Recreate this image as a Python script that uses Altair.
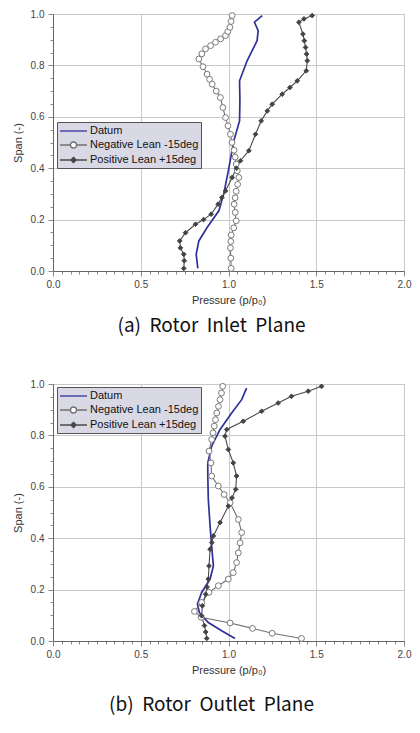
import altair as alt
import pandas as pd

SERIES = ["Datum", "Negative Lean -15deg", "Positive Lean +15deg"]

# ---- (a) Rotor Inlet Plane ----
a_datum_p = [0.825, 0.816, 0.831, 0.878, 0.945, 0.973, 1.002, 1.030, 1.063, 1.065, 1.063, 1.106, 1.163, 1.169, 1.148, 1.192]
a_datum_s = [0.01, 0.065, 0.117, 0.169, 0.234, 0.30, 0.40, 0.506, 0.584, 0.662, 0.74, 0.818, 0.896, 0.935, 0.968, 0.994]

a_neg_p = [1.015, 1.013, 1.011, 1.013, 1.015, 1.030, 1.044, 1.038, 1.032, 1.038, 1.044, 1.052, 1.059, 1.050, 1.044, 1.038, 1.032, 1.020, 1.011, 0.997, 0.983, 0.968, 0.954, 0.930, 0.907, 0.892, 0.878, 0.855, 0.831, 0.848, 0.869, 0.898, 0.926, 0.955, 0.983, 0.996, 1.008, 1.015, 1.021]
a_neg_s = [0.01, 0.05, 0.09, 0.115, 0.14, 0.168, 0.195, 0.228, 0.26, 0.285, 0.31, 0.337, 0.364, 0.39, 0.416, 0.443, 0.47, 0.50, 0.532, 0.565, 0.597, 0.636, 0.675, 0.70, 0.727, 0.746, 0.766, 0.795, 0.825, 0.845, 0.864, 0.877, 0.89, 0.903, 0.916, 0.932, 0.948, 0.971, 0.994]

a_pos_p = [0.745, 0.748, 0.745, 0.726, 0.722, 0.755, 0.812, 0.858, 0.901, 0.941, 0.962, 0.983, 1.021, 1.045, 1.068, 1.116, 1.154, 1.186, 1.221, 1.249, 1.306, 1.350, 1.392, 1.443, 1.449, 1.445, 1.439, 1.432, 1.424, 1.401, 1.430, 1.477]
a_pos_s = [0.01, 0.04, 0.065, 0.09, 0.117, 0.149, 0.182, 0.20, 0.221, 0.26, 0.286, 0.312, 0.364, 0.40, 0.429, 0.468, 0.532, 0.584, 0.623, 0.649, 0.688, 0.714, 0.74, 0.779, 0.818, 0.844, 0.87, 0.896, 0.922, 0.968, 0.981, 0.994]

# ---- (b) Rotor Outlet Plane ----
b_datum_p = [1.037, 0.961, 0.885, 0.834, 0.823, 0.847, 0.895, 0.914, 0.904, 0.895, 0.885, 0.882, 0.882, 0.904, 0.952, 1.018, 1.075, 1.103]
b_datum_s = [0.01, 0.04, 0.072, 0.111, 0.144, 0.189, 0.241, 0.292, 0.37, 0.448, 0.551, 0.642, 0.693, 0.758, 0.823, 0.887, 0.939, 0.984]

b_neg_p = [1.416, 1.249, 1.137, 1.009, 0.844, 0.806, 0.847, 0.889, 0.942, 0.999, 1.027, 1.046, 1.056, 1.066, 1.075, 1.056, 1.009, 0.975, 0.942, 0.904, 0.900, 0.889, 0.904, 0.912, 0.919, 0.926, 0.933, 0.943, 0.952, 0.960, 0.967]
b_neg_s = [0.01, 0.03, 0.049, 0.07, 0.092, 0.115, 0.15, 0.189, 0.215, 0.241, 0.266, 0.305, 0.343, 0.382, 0.422, 0.473, 0.538, 0.57, 0.603, 0.642, 0.693, 0.739, 0.784, 0.81, 0.836, 0.861, 0.887, 0.913, 0.939, 0.965, 0.991]

b_pos_p = [0.876, 0.870, 0.863, 0.847, 0.851, 0.870, 0.878, 0.885, 0.889, 0.895, 0.905, 0.914, 0.952, 0.999, 1.020, 1.041, 1.046, 1.027, 0.999, 0.980, 0.990, 1.084, 1.189, 1.283, 1.359, 1.454, 1.530]
b_pos_s = [0.01, 0.035, 0.06, 0.098, 0.137, 0.182, 0.21, 0.241, 0.292, 0.357, 0.383, 0.409, 0.461, 0.525, 0.557, 0.590, 0.642, 0.693, 0.745, 0.797, 0.823, 0.855, 0.894, 0.926, 0.952, 0.972, 0.991]

X_TICKS = [round(i * 0.05, 2) for i in range(41)]
Y_TICKS = [round(i * 0.05, 2) for i in range(21)]
X_MAJOR_TEST = "abs(datum.value * 2 - round(datum.value * 2)) < 0.001"
Y_MAJOR_TEST = "abs(datum.value * 5 - round(datum.value * 5)) < 0.001"

LINE_COLORS = ["#30309a", "#6e6e6e", "#4a4a4a"]
LINE_WIDTHS = [1.7, 1.1, 1.1]
LEGEND_STROKES = ["#30309a", "#707070", "#4a4a4a"]
LEGEND_FILLS = ["#30309a", "#ffffff", "#3a3a3a"]
# symbol unit = 6 px (symbolSize 144); line spans -1..3.5 units
LEGEND_PATHS = [
    "M-1,0H3.5",
    "M-1,0H0.75M1.75,0H3.5M0.75,0A0.5,0.5 0 1,1 1.75,0A0.5,0.5 0 1,1 0.75,0Z",
    "M-1,0H3.5M1.25,-0.45L1.7,0L1.25,0.45L0.8,0Z",
]

FONT = "Liberation Sans"


def frame(pairs):
    rows = []
    for name, ps, ss in pairs:
        for i, (p, s) in enumerate(zip(ps, ss)):
            rows.append({"series": name, "p": p, "span": s, "idx": i})
    return pd.DataFrame(rows)


def axis(values, test, orient, title, title_pad, label_pad):
    return alt.Axis(
        values=values, orient=orient, grid=True,
        gridColor="#c8c8c8",
        gridOpacity={"condition": {"test": test, "value": 1}, "value": 0},
        tickSize={"condition": {"test": test, "value": 5}, "value": 3},
        tickColor="#888", domain=True, domainColor="#666",
        labelExpr=f"({test}) ? format(datum.value, '.1f') : ''",
        labelOverlap=False, labelFlush=False, labelPadding=label_pad,
        labelFontSize=10, labelColor="#444", labelFont=FONT,
        title=title, titleFont=FONT, titleFontSize=11,
        titleFontWeight="normal", titleColor="#333", titlePadding=title_pad,
    )


XAXIS = axis(X_TICKS, X_MAJOR_TEST, "bottom", "Pressure (p/p\u2080)", 5, 3)
YAXIS = axis(Y_TICKS, Y_MAJOR_TEST, "left", "Span (-)", 7, 4)


def panel(df, caption, legend_y, caption_offset):
    xs = alt.Scale(domain=[0, 2], nice=False, zero=False)
    ys = alt.Scale(domain=[0, 1], nice=False, zero=False)
    base = alt.Chart(df)
    X = alt.X("p:Q", scale=xs, axis=XAXIS)
    Y = alt.Y("span:Q", scale=ys, axis=YAXIS)

    layers = []
    for name, col, w in zip(SERIES, LINE_COLORS, LINE_WIDTHS):
        layers.append(
            base.transform_filter(alt.datum.series == name)
            .mark_line(stroke=col, strokeWidth=w)
            .encode(x=X, y=Y, order="idx:Q")
        )
    layers.append(
        base.transform_filter(alt.datum.series == SERIES[1]).mark_point(
            shape="circle", size=34, filled=True, fill="white", stroke="#7a7a7a", strokeWidth=1, opacity=1
        ).encode(x=X, y=Y)
    )
    layers.append(
        base.transform_filter(alt.datum.series == SERIES[2]).mark_point(
            shape="diamond", size=22, filled=True, fill="#444", stroke="#444", strokeWidth=1, opacity=1
        ).encode(x=X, y=Y)
    )

    leg = alt.Legend(
        title=None, orient="none", legendX=4, legendY=legend_y,
        fillColor="#d9d9e6", strokeColor="#555", padding=2,
        symbolSize=144, symbolStrokeWidth=1.3, symbolOpacity=1,
        labelFont=FONT, labelFontSize=11, labelColor="#111", labelOffset=17,
        rowPadding=2, labelLimit=300,
    )
    layers.append(
        base.mark_point(filled=True, opacity=0).encode(
            x=X, y=Y,
            shape=alt.Shape("series:N", scale=alt.Scale(domain=SERIES, range=LEGEND_PATHS), legend=leg),
            stroke=alt.Stroke("series:N", scale=alt.Scale(domain=SERIES, range=LEGEND_STROKES), legend=leg),
            fill=alt.Fill("series:N", scale=alt.Scale(domain=SERIES, range=LEGEND_FILLS), legend=leg),
        )
    )

    return alt.layer(*layers).properties(
        width=351, height=257,
        title=alt.TitleParams(text=caption, orient="bottom", anchor="middle", frame="bounds",
                              fontSize=19, fontWeight="normal", font="Noto Sans CJK KR",
                              color="#111", offset=caption_offset),
    )


df_a = frame([(SERIES[0], a_datum_p, a_datum_s), (SERIES[1], a_neg_p, a_neg_s), (SERIES[2], a_pos_p, a_pos_s)])
df_b = frame([(SERIES[0], b_datum_p, b_datum_s), (SERIES[1], b_neg_p, b_neg_s), (SERIES[2], b_pos_p, b_pos_s)])

chart = alt.vconcat(
    panel(df_a, "(a) \u00a0Rotor \u00a0Inlet \u00a0Plane", 108, 12),
    panel(df_b, "(b) \u00a0Rotor \u00a0Outlet \u00a0Plane", 3, 21),
    spacing=41,
).resolve_scale(
    shape="independent", stroke="independent", fill="independent"
).resolve_legend(
    shape="independent", stroke="independent", fill="independent"
).properties(
    padding={"left": 3, "top": 0, "right": 0, "bottom": 5}, background="white"
).configure_view(stroke="#666", strokeWidth=1)

chart.save("out.html", embed_options={"renderer": "svg", "actions": False})
